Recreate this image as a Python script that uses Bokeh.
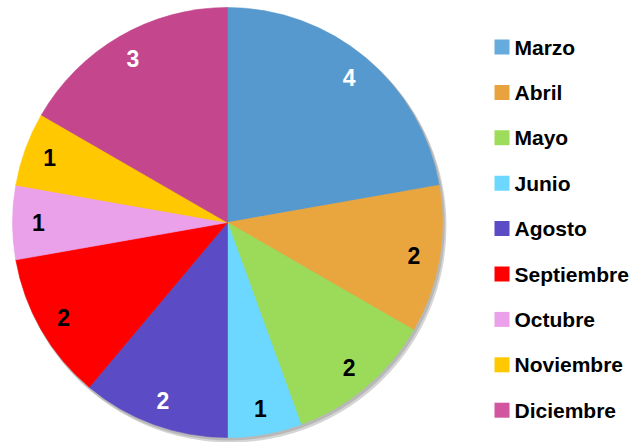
import math
from bokeh.plotting import figure
from bokeh.models import Range1d, ColumnDataSource
from bokeh.core.properties import value
from bokeh.embed import file_html
from bokeh.resources import INLINE

# ---- data ----
months = ["Marzo", "Abril", "Mayo", "Junio", "Agosto", "Septiembre", "Octubre", "Noviembre", "Diciembre"]
counts = [4, 2, 2, 1, 2, 2, 1, 1, 3]
colors = ["#5699CE", "#EAA63E", "#9BDB59", "#6CD8FF", "#5B4BC4", "#FF0000", "#EBA0EA", "#FFC800", "#C4468D"]
legend_colors = ["#66ABDE", "#E9A33E", "#9EDC5C", "#6CD8FF", "#5B4BC4", "#FF0000", "#EBA0EA", "#FFC800", "#D2559F"]
label_colors = ["white", "black", "black", "black", "white", "black", "black", "black", "white"]

W, H = 636, 442
p = figure(width=W, height=H, output_backend="svg", toolbar_location=None,
           x_range=Range1d(0, W), y_range=Range1d(0, H), min_border=0)
p.axis.visible = False
p.grid.visible = False
p.outline_line_color = None
p.background_fill_color = "white"

cx, cy, R = 227, H - 222, 215
total = sum(counts)
starts, ends, mids = [], [], []
acc = 0
for c in counts:
    a0 = math.pi / 2 - 2 * math.pi * acc / total
    acc += c
    a1 = math.pi / 2 - 2 * math.pi * acc / total
    starts.append(a0); ends.append(a1); mids.append((a0 + a1) / 2)

# shadow
p.circle(x=[cx + 3], y=[cy - 4], radius=R + 1, fill_color="#888888", fill_alpha=0.35, line_color=None)
p.circle(x=[cx + 1.5], y=[cy - 2], radius=R + 1, fill_color="#777777", fill_alpha=0.3, line_color=None)

src = ColumnDataSource(dict(start=starts, end=ends, color=colors))
p.wedge(x=cx, y=cy, radius=R, start_angle="start", end_angle="end", direction="clock",
        fill_color="color", line_color="color", line_width=0.6, source=src)

lr = 0.88 * R
lx = [cx + lr * math.cos(m) for m in mids]
ly = [cy + lr * math.sin(m) for m in mids]
p.text(x=lx, y=ly, text=[str(c) for c in counts], text_color=label_colors,
       text_font=value("Liberation Sans"), text_font_style="bold", text_font_size="23px",
       text_align="center", text_baseline="middle")

# legend
ys = [H - (46.5 + 45.4 * i) for i in range(len(months))]
p.rect(x=[501.5] * len(months), y=ys, width=15, height=15, fill_color=legend_colors, line_color=None)
p.text(x=[514] * len(months), y=ys, text=months, text_color="black",
       text_font=value("Liberation Sans"), text_font_style="bold", text_font_size="21px",
       text_align="left", text_baseline="middle")

open("out.html", "w").write(file_html(p, INLINE))
